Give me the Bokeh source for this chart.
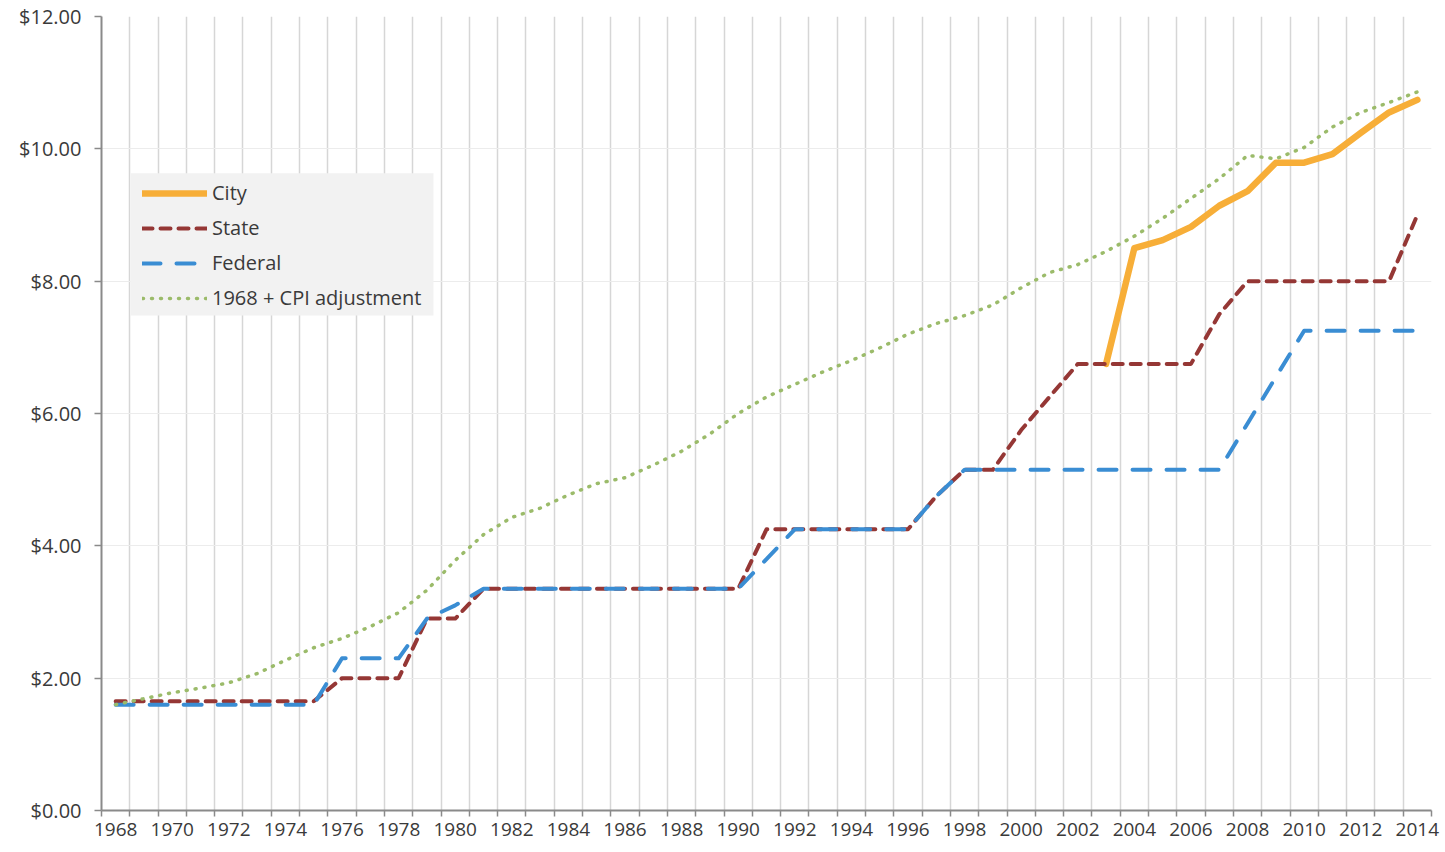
from bokeh.plotting import figure
from bokeh.models import Range1d, FixedTicker, NumeralTickFormatter, Legend, LegendItem, BoxAnnotation
from bokeh.embed import file_html
from bokeh.resources import INLINE

years = list(range(1968, 2015))
label_years = list(range(1968, 2015, 2))

state = [1.65, 1.65, 1.65, 1.65, 1.65, 1.65, 1.65, 1.65,
         2.00, 2.00, 2.00, 2.90, 2.90, 3.35,
         3.35, 3.35, 3.35, 3.35, 3.35, 3.35, 3.35, 3.35, 3.35,
         4.25, 4.25, 4.25, 4.25, 4.25, 4.25,
         4.75, 5.15, 5.15, 5.75, 6.25, 6.75,
         6.75, 6.75, 6.75, 6.75, 7.50, 8.00,
         8.00, 8.00, 8.00, 8.00, 8.00, 9.00]

federal = [1.60, 1.60, 1.60, 1.60, 1.60, 1.60, 1.60, 1.60,
           2.30, 2.30, 2.30, 2.90, 3.10, 3.35,
           3.35, 3.35, 3.35, 3.35, 3.35, 3.35, 3.35, 3.35, 3.35,
           3.80, 4.25, 4.25, 4.25, 4.25, 4.25,
           4.75, 5.15, 5.15, 5.15, 5.15, 5.15,
           5.15, 5.15, 5.15, 5.15, 5.15, 5.85,
           6.55, 7.25, 7.25, 7.25, 7.25, 7.25]

cpi = [1.60, 1.69, 1.78, 1.85, 1.93, 2.07, 2.27, 2.46,
       2.60, 2.78, 2.99, 3.33, 3.78, 4.17,
       4.43, 4.57, 4.77, 4.94, 5.03, 5.22, 5.43, 5.69, 6.00,
       6.25, 6.44, 6.63, 6.80, 6.99, 7.20,
       7.36, 7.48, 7.64, 7.90, 8.13, 8.25,
       8.45, 8.68, 8.95, 9.25, 9.55, 9.90,
       9.85, 10.02, 10.33, 10.55, 10.70, 10.86]

city_years = [2003, 2004, 2005, 2006, 2007, 2008, 2009, 2010, 2011, 2012, 2013, 2014]
city = [6.75, 8.50, 8.62, 8.82, 9.14, 9.36, 9.79, 9.79, 9.92, 10.24, 10.55, 10.74]

y_ticks = [0, 2, 4, 6, 8, 10, 12]

FONT = "Open Sans"
TXT = "#3a3a3a"

p = figure(frame_width=1330, frame_height=794,
           min_border_left=101, min_border_right=14, min_border_top=16, min_border_bottom=30,
           x_range=Range1d(1967.5, 2014.5), y_range=Range1d(0, 12),
           output_backend="svg", toolbar_location=None)
p.outline_line_color = None
p.background_fill_color = "white"

boundaries = [y - 0.5 for y in years] + [years[-1] + 0.5]
p.xaxis.ticker = FixedTicker(ticks=label_years, minor_ticks=boundaries)
p.xaxis.major_tick_out = 0
p.xaxis.major_tick_in = 0
p.xaxis.minor_tick_out = 6
p.xaxis.minor_tick_in = 0
p.xaxis.minor_tick_line_color = "#8a8a8a"
p.xaxis.minor_tick_line_width = 1.5
p.xaxis.axis_line_color = "#8a8a8a"
p.xaxis.axis_line_width = 2
p.xaxis.major_label_standoff = 6
p.xaxis.major_label_text_font = FONT
p.xaxis.major_label_text_font_size = "19px"
p.xaxis.major_label_text_color = TXT

p.yaxis.ticker = FixedTicker(ticks=y_ticks)
p.yaxis.formatter = NumeralTickFormatter(format="$0.00")
p.yaxis.major_tick_out = 7
p.yaxis.major_tick_in = 0
p.yaxis.minor_tick_out = 0
p.yaxis.minor_tick_in = 0
p.yaxis.major_tick_line_color = "#8a8a8a"
p.yaxis.major_tick_line_width = 1.5
p.yaxis.axis_line_color = "#8a8a8a"
p.yaxis.axis_line_width = 2
p.yaxis.major_label_standoff = 13
p.yaxis.major_label_text_font = FONT
p.yaxis.major_label_text_font_size = "20px"
p.yaxis.major_label_text_color = TXT

p.xgrid.grid_line_color = None
p.xgrid.minor_grid_line_color = "#d6d6d6"
p.xgrid.minor_grid_line_width = 1.5
p.ygrid.grid_line_color = "#ececec"
p.ygrid.grid_line_width = 1.2

r_city = p.line(city_years, city, line_color="#F7AE38", line_width=6.5, line_join="round", line_cap="round")
r_state = p.line(years, state, line_color="#953735", line_width=4, line_dash="10 8", line_cap="round", line_join="round")
r_fed = p.line(years, federal, line_color="#3A8DD3", line_width=4, line_dash="18 16", line_cap="round", line_join="round")
r_cpi = p.line(years, cpi, line_color="#9BBB6A", line_width=3.5, line_dash="1 8", line_cap="round")

# legend background panel (layout only)
legend_bg = BoxAnnotation(left=1968.525, right=1979.232, top=9.63, bottom=7.48,
                          fill_color="#f2f2f2", fill_alpha=1, line_color=None)
p.add_layout(legend_bg)

legend = Legend(items=[
    LegendItem(label="City", renderers=[r_city]),
    LegendItem(label="State", renderers=[r_state]),
    LegendItem(label="Federal", renderers=[r_fed]),
    LegendItem(label="1968 + CPI adjustment", renderers=[r_cpi]),
], location=(41, 499))
legend.background_fill_alpha = 0
legend.border_line_color = None
legend.label_text_font = FONT
legend.label_text_font_size = "20px"
legend.label_text_color = TXT
legend.glyph_width = 65
legend.glyph_height = 20
legend.label_height = 20
legend.spacing = 8
legend.padding = 0
legend.margin = 0
legend.label_standoff = 5
p.add_layout(legend, "center")

open("out.html", "w").write(file_html(p, INLINE))
